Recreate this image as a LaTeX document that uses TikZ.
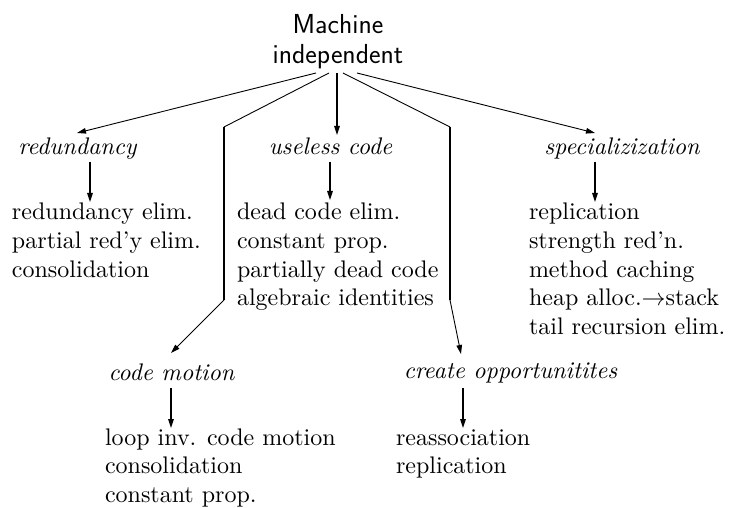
\documentclass[tikz,border=0pt]{standalone}
\usepackage{graphicx}
\usetikzlibrary{arrows.meta}
\newcommand{\bigtxt}[1]{\scalebox{2.4}{#1}}
\newcommand{\itemlist}[1]{\scalebox{2.4}{\def\arraystretch{0.99}\begin{tabular}[t]{@{}l@{}}#1\end{tabular}}}
\begin{document}
\begin{tikzpicture}[x=1pt,y=-1pt,
  every node/.style={inner sep=0pt, outer sep=0pt},
  toptext/.style={font=\fontsize{27.5}{30.5}\sffamily, align=center, anchor=north},
  cat/.style={font=\itshape, anchor=base},
  items/.style={anchor=base west},
  fan/.style={line width=0.9pt},
  arr/.style={line width=1.2pt, -{Triangle[length=9pt,width=5.5pt]}},
  farr/.style={line width=0.9pt, -{Triangle[length=9pt,width=5.5pt]}}]
\useasboundingbox (0,0) rectangle (729,508);

% top
\node[toptext] (top) at (338,14) {Machine\\independent};

% categories
\node[cat] (red) at (77.5,155) {\bigtxt{redundancy}};
\node[cat] (use) at (330.5,155) {\bigtxt{useless code}};
\node[cat] (spec) at (622,155) {\bigtxt{specializization}};
\node[cat] (cm) at (171.5,380) {\bigtxt{code motion}};
\node[cat] (co) at (510.5,378) {\bigtxt{create opportunitites}};

% item lists
\node[items] (redl) at (12,220) {\itemlist{redundancy elim.\\partial red'y elim.\\consolidation}};
\node[items] (usel) at (237,220) {\itemlist{dead code elim.\\constant prop.\\partially dead code\\algebraic identities}};
\node[items] (specl) at (529,220) {\itemlist{replication\\strength red'n.\\method caching\\heap alloc.$\rightarrow$stack\\tail recursion elim.}};
\node[items] (cml) at (105,445) {\itemlist{loop inv. code motion\\consolidation\\constant prop.}};
\node[items] (col) at (396,445) {\itemlist{reassociation\\replication}};

% fan start points
\coordinate (s1) at (316,73);
\coordinate (s2) at (329,73);
\coordinate (s3) at (337,73);
\coordinate (s4) at (343,73);
\coordinate (s5) at (357,73);
% fan ends / bends
\coordinate (e1) at (77,133);
\coordinate (b2a) at (224,127);
\coordinate (b2b) at (224,300);
\coordinate (e2) at (171,353);
\coordinate (e3) at (337,135);
\coordinate (b4a) at (450,127);
\coordinate (b4b) at (450,300);
\coordinate (e4) at (461,354);
\coordinate (e5) at (595,133);

\draw[farr] (s1) -- (e1);
\draw[fan] (s2) -- (b2a);
\draw[line width=1.2pt] (b2a) -- (b2b);
\draw[farr] (b2b) -- (e2);
\draw[arr] (s3) -- (e3);
\draw[fan] (s4) -- (b4a);
\draw[line width=1.2pt] (b4a) -- (b4b);
\draw[farr] (b4b) -- (e4);
\draw[farr] (s5) -- (e5);

% short arrows
\coordinate (r1) at (90,162);  \coordinate (r2) at (90,202);
\coordinate (u1) at (330,162); \coordinate (u2) at (330,200);
\coordinate (p1) at (595,162); \coordinate (p2) at (595,202);
\coordinate (c1) at (171,388); \coordinate (c2) at (171,428);
\coordinate (o1) at (463,388); \coordinate (o2) at (463,428);
\draw[arr] (r1) -- (r2);
\draw[arr] (u1) -- (u2);
\draw[arr] (p1) -- (p2);
\draw[arr] (c1) -- (c2);
\draw[arr] (o1) -- (o2);
\end{tikzpicture}
\end{document}
